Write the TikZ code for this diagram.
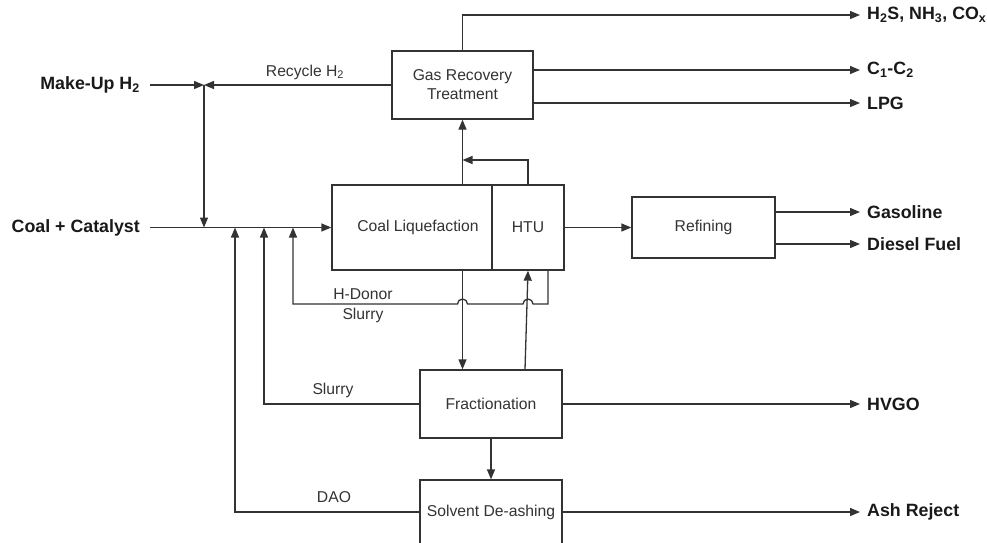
\documentclass[tikz,border=0pt]{standalone}
\usepackage{fontspec}
\setmainfont{Liberation Sans}
\usetikzlibrary{arrows.meta}
\begin{document}
\begin{tikzpicture}[x=1pt,y=-1pt,
  line/.style={draw=black!80, line width=1.3pt},
  arr/.style={line, -{Triangle[length=10pt,width=8pt]}},
  box/.style={draw=black!80, line width=1.3pt, fill=white, text=black!80,
    font=\fontsize{15.7}{19}\selectfont, align=center, inner sep=0pt},
  lbl/.style={text=black!80, font=\fontsize{15.7}{19}\selectfont, inner sep=0pt},
  outl/.style={text=black!90, font=\bfseries\fontsize{17.8}{20}\selectfont,
    anchor=west, inner xsep=7pt, inner ysep=0pt},
  inl/.style={text=black!90, font=\bfseries\fontsize{17.8}{20}\selectfont,
    anchor=east, inner xsep=10pt, inner ysep=0pt}]
\useasboundingbox (0,0) rectangle (987,542);

% boxes
\node[box, minimum width=141pt, minimum height=68pt] (gas) at (462.5,85) {Gas Recovery\\Treatment};
\node[box, minimum width=160pt, minimum height=85pt] (liq) at (412,227.5) {\hspace*{12pt}Coal Liquefaction};
\node[box, minimum width=72pt, minimum height=85pt] (htu) at (528,227.5) {HTU};
\node[box, minimum width=143pt, minimum height=61pt] (ref) at (703.5,227.5) {Refining};
\node[box, minimum width=142pt, minimum height=68pt] (frac) at (491,404) {Fractionation};
\node[box, minimum width=142pt, minimum height=64pt] (sda) at (491,512) {Solvent De-ashing};

% outer labels
\node[outl] (h2s) at (860,15) {H\textsubscript{2}S, NH\textsubscript{3}, CO\textsubscript{x}};
\node[outl] (c12) at (860,70) {C\textsubscript{1}-C\textsubscript{2}};
\node[outl] (lpg) at (860,103) {LPG};
\node[outl] (gasl) at (860,212) {Gasoline};
\node[outl] (dsl) at (860,244) {Diesel Fuel};
\node[outl] (hvgo) at (860,404) {HVGO};
\node[outl] (ash) at (860,512) {Ash Reject};
\node[inl] (mu) at (150,85) {Make-Up H\textsubscript{2}};
\node[inl] (cc) at (150,227.5) {Coal + Catalyst};

% stream labels
\node[lbl] (rec) at (305,72) {Recycle H\textsubscript{2}};
\node[lbl] (hd1) at (363,294) {H-Donor};
\node[lbl] (hd2) at (363,315) {Slurry};
\node[lbl] (sl) at (333,390) {Slurry};
\node[lbl] (dao) at (334,497) {DAO};

% junction points
\coordinate (valve) at (204,85);
\coordinate (in1) at (235,227.5);
\coordinate (in2) at (264,227.5);
\coordinate (in3) at (293,227.5);
\coordinate (branch) at (462.5,160);
\coordinate (hdc) at (548,304);

% connectors
\draw[arr] (gas.north) |- (h2s.west);
\draw[arr] (gas.east |- c12.west) -- (c12.west);
\draw[arr] (gas.east |- lpg.west) -- (lpg.west);
\draw[arr] (gas.west) -- (valve);
\draw[arr] (mu.east) -- (valve);
\draw[arr] (valve) -- (valve |- liq.west);
\draw[arr] (cc.east) -- (liq.west);
\draw[arr] (gas.south |- liq.north) -- (gas.south);
\draw[arr] (htu.north) |- (branch);
\draw[arr] (htu.east) -- (ref.west);
\draw[arr] (ref.east |- gasl.west) -- (gasl.west);
\draw[arr] (ref.east |- dsl.west) -- (dsl.west);
\draw[arr] (gas.south |- liq.south) -- (gas.south |- frac.north);
\draw[arr] ([xshift=34pt]frac.north) -- (htu.south);
\draw[arr] (frac.south) -- (sda.north);
\draw[arr] (frac.east) -- (hvgo.west);
\draw[arr] (sda.east) -- (ash.west);
\draw[arr] (frac.west) -| (in2);
\draw[arr] (sda.west) -| (in1);
\draw[arr] (hdc |- htu.south) -- (hdc) -- (533,304)
  arc[start angle=0, end angle=180, radius=5pt] -- (467.5,304)
  arc[start angle=0, end angle=180, radius=5pt] -- (293,304) -- (in3);
\end{tikzpicture}
\end{document}
